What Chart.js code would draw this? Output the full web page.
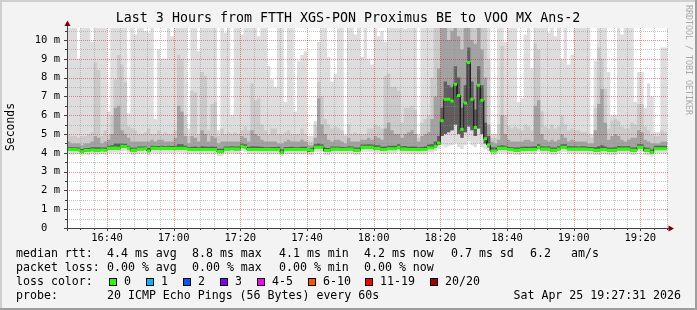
<!DOCTYPE html>
<html>
<head>
<meta charset="utf-8">
<script src="https://cdn.jsdelivr.net/npm/chart.js@4.4.1/dist/chart.umd.min.js"></script>
<style>
  html, body { margin: 0; padding: 0; background: #f3f3f3; }
  canvas { display: block; }
</style>
</head>
<body>
<canvas id="smoke" width="697" height="310"></canvas>
<script>
// SmokePing "Last 3 Hours" — one value per minute, minute 0 = 16:28
const chartTitle = 'Last 3 Hours from FTTH XGS-PON Proximus BE to VOO MX Ans-2';
const timeLabels = ['16:40', '17:00', '17:20', '17:40', '18:00', '18:20', '18:40', '19:00', '19:20'];
const timeLabelMinutes = [12, 32, 52, 72, 92, 112, 132, 152, 172];

// highest ping of each minute (ms)
const maxRtt = [
  10.8,10.8,10.8,9.0,10.8,10.8,10.8,9.9,10.8,10.8,
  10.8,10.8,6.2,10.8,10.8,10.8,10.8,10.8,6.1,10.8,
  10.3,10.8,10.8,10.5,10.4,10.8,5.8,9.5,9.0,9.0,
  10.8,10.2,10.8,10.8,10.8,10.8,5.3,10.8,10.8,9.4,
  10.8,10.8,10.8,10.8,10.8,5.2,10.8,10.4,10.8,6.0,
  10.8,10.8,10.3,10.8,10.8,10.8,10.8,10.2,10.8,10.8,
  8.6,7.9,7.5,10.8,10.8,6.7,10.8,10.8,6.2,8.9,
  9.2,9.4,4.9,4.9,5.7,9.9,10.8,10.8,9.1,7.8,
  8.2,10.8,10.8,5.0,10.8,10.8,10.3,10.8,9.1,10.8,
  9.0,8.7,10.8,10.2,10.5,9.9,10.8,10.8,10.8,10.8,
  10.8,10.6,10.8,10.8,10.8,5.0,10.8,10.8,10.8,10.8,
  10.8,10.8,10.8,10.8,10.8,10.8,10.8,10.8,10.8,10.8,
  10.8,10.8,10.8,10.8,10.8,10.8,10.8,5.0,5.0,10.8,
  10.8,9.9,10.8,10.8,10.8,6.7,6.9,10.3,10.8,8.5,
  10.8,10.8,10.8,10.8,10.4,10.8,10.2,10.8,9.0,10.8,
  8.7,9.2,10.8,10.8,10.8,10.8,10.8,5.0,8.9,10.8,
  10.8,10.8,8.3,6.0,6.0,10.8,10.3,10.8,10.8,10.8,
  6.7,8.3,8.3,6.4,7.7,7.0,5.1,5.1,9.6,9.6
];
// second highest ping
const hiRtt = [
  5.0,4.9,4.9,4.8,4.9,4.9,5.0,5.1,8.8,8.4,
  4.9,5.2,5.0,6.0,7.9,9.2,8.7,7.8,5.4,5.3,
  5.2,5.0,5.0,5.1,5.3,5.0,5.0,5.2,5.0,5.1,
  5.0,5.0,5.2,9.2,9.0,6.0,4.9,7.3,7.2,5.0,
  8.3,8.1,5.2,6.6,6.7,4.9,5.3,5.0,5.1,5.0,
  5.1,5.0,5.2,5.4,5.2,7.7,6.8,6.9,5.5,5.2,
  5.0,5.3,5.3,5.0,5.0,5.1,5.2,5.0,5.0,5.0,
  5.3,5.0,4.6,4.6,5.5,7.8,7.0,5.8,5.5,5.3,
  5.4,5.3,5.2,4.9,5.5,5.0,5.1,5.0,5.0,5.0,
  5.3,5.3,5.5,5.4,5.3,8.1,8.2,7.5,7.5,7.3,
  5.6,6.4,6.4,6.5,6.3,4.8,5.6,5.8,6.0,8.0,
  10.8,10.8,10.8,10.8,10.8,10.8,10.8,10.8,10.8,10.8,
  10.8,10.8,10.8,10.8,10.8,10.8,9.0,4.8,4.8,5.5,
  9.7,6.0,5.4,5.3,5.4,5.3,5.2,5.5,5.4,5.2,
  9.8,9.5,6.2,5.4,5.3,5.5,5.3,5.4,6.0,5.5,
  5.2,5.3,5.2,5.2,5.1,5.1,5.0,4.8,6.4,9.6,
  9.0,7.4,5.3,5.7,5.8,5.7,5.4,5.3,5.3,5.6,
  5.5,6.6,6.6,5.4,5.2,5.0,4.9,4.9,5.2,5.1
];
// upper quarter of the pings
const upRtt = [
  4.6,4.5,4.5,4.5,4.4,4.5,4.5,4.6,4.9,4.8,
  4.5,4.6,4.7,5.0,6.4,6.5,5.2,5.0,4.8,4.6,
  4.6,4.6,4.6,4.6,4.6,4.7,4.6,4.7,4.7,4.6,
  4.6,4.6,4.8,6.5,6.2,4.9,4.5,4.9,4.8,4.6,
  5.2,5.0,4.6,4.9,4.8,4.5,4.6,4.6,4.6,4.6,
  4.6,4.6,4.9,4.8,4.6,5.2,5.0,4.9,4.7,4.6,
  4.6,4.6,4.6,4.5,4.5,4.6,4.7,4.6,4.6,4.6,
  4.7,4.6,4.4,4.4,4.8,6.9,5.5,5.0,4.7,4.6,
  4.7,4.7,4.6,4.5,4.8,4.6,4.6,4.6,4.7,4.7,
  4.8,4.7,4.9,4.8,4.7,5.3,5.6,5.2,5.0,5.0,
  4.8,5.0,5.1,5.2,5.0,4.6,4.9,5.0,5.1,5.8,
  7.0,8.5,10.8,10.8,10.0,10.5,10.8,10.2,9.5,10.8,
  10.8,10.0,9.8,10.8,9.5,8.0,5.5,4.6,4.5,4.7,
  6.0,5.0,4.7,4.6,4.6,4.6,4.6,4.7,4.7,4.6,
  6.5,6.8,5.0,4.7,4.6,4.7,4.6,4.7,5.0,4.8,
  4.6,4.7,4.6,4.6,4.6,4.6,4.5,4.5,5.2,6.6,
  7.4,5.6,4.7,4.9,5.0,4.9,4.7,4.6,4.7,4.8,
  4.8,5.2,5.1,4.7,4.6,4.5,4.5,4.5,4.6,4.6
];
// pings just above the median
const midRtt = [
  4.3,4.3,4.3,4.28,4.2,4.26,4.25,4.3,4.3,4.3,
  4.28,4.28,4.38,4.4,4.5,4.5,4.5,4.48,4.38,4.27,
  4.27,4.33,4.34,4.34,4.25,4.38,4.36,4.36,4.37,4.36,
  4.37,4.36,4.38,4.45,4.45,4.37,4.3,4.32,4.33,4.3,
  4.35,4.33,4.32,4.33,4.32,4.22,4.21,4.34,4.34,4.35,
  4.33,4.34,4.5,4.46,4.32,4.35,4.35,4.33,4.32,4.3,
  4.3,4.31,4.31,4.32,4.17,4.31,4.31,4.32,4.3,4.3,
  4.32,4.32,4.26,4.26,4.45,4.5,4.46,4.27,4.26,4.34,
  4.34,4.34,4.31,4.3,4.35,4.34,4.28,4.28,4.44,4.44,
  4.45,4.44,4.4,4.4,4.32,4.33,4.38,4.38,4.38,4.46,
  4.35,4.36,4.32,4.33,4.33,4.3,4.31,4.33,4.44,4.45,
  4.6,4.9,6.4,7.8,7.6,7.5,8.6,8.0,6.4,7.6,
  9.6,7.8,6.3,8.6,7.6,5.6,4.9,4.3,4.28,4.38,
  4.4,4.38,4.31,4.3,4.28,4.28,4.32,4.33,4.32,4.33,
  4.35,4.46,4.35,4.34,4.35,4.28,4.28,4.35,4.45,4.45,
  4.35,4.35,4.35,4.34,4.35,4.35,4.31,4.31,4.3,4.35,
  4.4,4.33,4.28,4.28,4.29,4.36,4.35,4.35,4.36,4.28,
  4.28,4.45,4.45,4.28,4.27,4.18,4.37,4.37,4.37,4.37
];
// median rtt
const medRtt = [
  4.17,4.17,4.17,4.15,4.05,4.13,4.12,4.15,4.13,4.13,
  4.15,4.14,4.24,4.24,4.25,4.24,4.35,4.33,4.25,4.13,
  4.13,4.2,4.2,4.21,4.1,4.24,4.24,4.23,4.24,4.24,
  4.24,4.23,4.24,4.24,4.24,4.23,4.17,4.17,4.18,4.17,
  4.17,4.17,4.18,4.17,4.17,4.07,4.07,4.2,4.2,4.21,
  4.2,4.2,4.35,4.3,4.18,4.18,4.17,4.18,4.18,4.17,
  4.17,4.17,4.18,4.17,4.03,4.17,4.17,4.18,4.17,4.17,
  4.17,4.18,4.17,4.12,4.3,4.3,4.3,4.12,4.12,4.2,
  4.2,4.2,4.17,4.17,4.2,4.2,4.13,4.13,4.29,4.29,
  4.29,4.29,4.24,4.24,4.17,4.17,4.22,4.22,4.22,4.3,
  4.2,4.2,4.17,4.17,4.17,4.17,4.17,4.17,4.27,4.26,
  4.35,4.52,5.7,6.85,6.85,6.75,7.65,7.05,5.25,6.65,
  8.8,6.85,5.35,7.6,6.8,4.75,4.42,4.1,4.1,4.24,
  4.24,4.24,4.17,4.17,4.13,4.13,4.18,4.18,4.18,4.18,
  4.18,4.3,4.2,4.2,4.2,4.13,4.13,4.2,4.3,4.3,
  4.2,4.2,4.2,4.2,4.2,4.2,4.17,4.17,4.13,4.13,
  4.17,4.17,4.13,4.13,4.13,4.2,4.2,4.2,4.2,4.13,
  4.13,4.3,4.3,4.13,4.13,4.03,4.22,4.22,4.22,4.22
];
// pings just below the median
const loRtt = [
  4.11,4.11,4.11,4.09,3.99,4.07,4.06,4.09,4.07,4.07,
  4.09,4.08,4.18,4.18,4.19,4.18,4.28,4.27,4.19,4.07,
  4.07,4.14,4.14,4.15,4.04,4.18,4.18,4.17,4.18,4.18,
  4.18,4.17,4.18,4.18,4.18,4.17,4.11,4.11,4.12,4.11,
  4.11,4.11,4.12,4.11,4.11,4.01,4.01,4.14,4.14,4.15,
  4.14,4.14,4.28,4.24,4.12,4.12,4.11,4.12,4.12,4.11,
  4.11,4.11,4.12,4.11,3.97,4.11,4.11,4.12,4.11,4.11,
  4.11,4.12,4.06,4.06,4.24,4.24,4.24,4.06,4.06,4.14,
  4.14,4.14,4.11,4.11,4.14,4.14,4.07,4.07,4.23,4.23,
  4.23,4.23,4.18,4.18,4.11,4.11,4.16,4.16,4.16,4.24,
  4.14,4.14,4.11,4.11,4.11,4.11,4.11,4.11,4.21,4.2,
  4.28,4.42,4.9,5.0,5.1,5.2,5.5,5.0,4.8,5.1,
  5.4,5.2,4.9,5.3,5.0,4.5,4.3,4.04,4.07,4.18,
  4.18,4.18,4.11,4.11,4.07,4.07,4.12,4.12,4.12,4.12,
  4.12,4.24,4.14,4.14,4.14,4.07,4.07,4.14,4.24,4.24,
  4.14,4.14,4.14,4.14,4.14,4.14,4.11,4.11,4.07,4.07,
  4.11,4.11,4.07,4.07,4.07,4.14,4.14,4.14,4.14,4.07,
  4.07,4.24,4.24,4.07,4.07,3.97,4.16,4.16,4.16,4.16
];
// lowest ping of each minute
const minRtt = [
  3.92,3.9,3.93,3.92,3.85,3.9,3.88,3.92,3.9,3.91,
  3.92,3.9,4.0,4.0,4.02,4.0,4.08,4.1,4.0,3.9,
  3.9,3.95,3.96,3.97,3.86,4.0,4.0,3.98,4.0,4.0,
  4.0,3.99,4.0,4.02,4.0,3.98,3.93,3.92,3.94,3.92,
  3.93,3.93,3.94,3.92,3.93,3.83,3.84,3.96,3.96,3.97,
  3.96,3.95,4.1,4.06,3.94,3.94,3.93,3.94,3.93,3.93,
  3.93,3.92,3.94,3.93,3.8,3.93,3.93,3.94,3.93,3.92,
  3.93,3.94,3.88,3.88,4.06,4.06,4.05,3.88,3.88,3.96,
  3.96,3.96,3.93,3.93,3.96,3.96,3.89,3.9,4.05,4.05,
  4.05,4.05,4.0,4.0,3.93,3.93,3.98,3.98,3.98,4.06,
  3.96,3.96,3.93,3.93,3.93,3.93,3.93,3.93,4.03,4.02,
  4.1,4.2,4.4,4.3,4.35,4.4,4.5,4.3,4.2,4.4,
  4.6,4.4,4.3,4.5,4.3,4.2,4.1,3.86,3.89,4.0,
  4.0,4.0,3.93,3.93,3.89,3.89,3.94,3.94,3.94,3.94,
  3.94,4.06,3.96,3.96,3.96,3.89,3.89,3.96,4.06,4.06,
  3.96,3.96,3.96,3.96,3.96,3.96,3.93,3.93,3.89,3.89,
  3.93,3.93,3.89,3.89,3.89,3.96,3.96,3.96,3.96,3.89,
  3.89,4.06,4.06,3.89,3.89,3.79,3.98,3.98,3.98,3.98
];

const rttStats = ['4.4 ms avg', '8.8 ms max', '4.1 ms min', '4.2 ms now', '0.7 ms sd', '6.2', 'am/s'];
const lossStats = ['0.00 % avg', '0.00 % max', '0.00 % min', '0.00 % now'];
const lossLabels = ['0', '1', '2', '3', '4-5', '6-10', '11-19', '20/20'];
const lossColors = ['#26ff00', '#00b8ff', '#0059ff', '#7e00ff', '#ff00ff', '#ff5500', '#ff0000', '#a10000'];
const probeText = '20 ICMP Echo Pings (56 Bytes) every 60s';
const stampText = 'Sat Apr 25 19:27:31 2026';

// each minute is a flat step
function steps(arr) {
  const out = [];
  arr.forEach((v, i) => { out.push({ x: i, y: v }); out.push({ x: i + 1, y: v }); });
  return out;
}
function dashes(arr) {
  const out = [];
  arr.forEach((v, i) => { out.push({ x: i, y: v }); out.push({ x: i + 1, y: v }); out.push({ x: i + 1, y: null }); });
  return out;
}
function band(data, fill, color, order) {
  return { data: steps(data), fill: fill, backgroundColor: color, borderWidth: 0, pointRadius: 0, order: order };
}

const MONO = '"DejaVu Sans Mono", monospace';

const rrdPlugin = {
  id: 'rrd',
  beforeDraw(chart) {
    const ctx = chart.ctx, a = chart.chartArea;
    ctx.save();
    ctx.fillStyle = '#f3f3f3';
    ctx.fillRect(0, 0, 697, 310);
    ctx.fillStyle = '#ffffff';
    ctx.fillRect(a.left, a.top, a.right - a.left, a.bottom - a.top);
    // frame
    ctx.fillStyle = '#cfcfcf';
    ctx.fillRect(0, 0, 697, 2);
    ctx.fillRect(0, 0, 2, 310);
    ctx.fillStyle = '#9e9e9e';
    ctx.fillRect(0, 308, 697, 2);
    ctx.fillRect(695, 0, 2, 310);
    ctx.restore();
  },
  beforeDatasetDraw(chart, args) {
    if (args.index !== 6) return;
    const ctx = chart.ctx, a = chart.chartArea;
    const xs = chart.scales.x, ys = chart.scales.y;
    ctx.save();
    ctx.lineWidth = 1;
    ctx.setLineDash([1, 1]);
    for (let m = 4; m <= 180; m += 4) {
      const px = Math.round(xs.getPixelForValue(m)) + 0.5;
      ctx.strokeStyle = (m - 12) % 20 === 0 ? 'rgba(229,0,15,0.45)' : 'rgba(143,143,143,0.5)';
      ctx.beginPath(); ctx.moveTo(px, a.top); ctx.lineTo(px, a.bottom); ctx.stroke();
    }
    for (let v = 0.5; v <= 10.5; v += 0.5) {
      const py = Math.round(ys.getPixelForValue(v)) + 0.5;
      ctx.strokeStyle = Number.isInteger(v) ? 'rgba(229,0,15,0.45)' : 'rgba(143,143,143,0.5)';
      ctx.beginPath(); ctx.moveTo(a.left, py); ctx.lineTo(a.right + 2, py); ctx.stroke();
    }
    ctx.restore();
  },
  afterDraw(chart) {
    const ctx = chart.ctx, a = chart.chartArea;
    const xs = chart.scales.x, ys = chart.scales.y;
    ctx.save();
    // axes
    ctx.strokeStyle = '#404040';
    ctx.lineWidth = 1;
    ctx.beginPath();
    ctx.moveTo(a.left + 0.5, a.bottom + 3); ctx.lineTo(a.left + 0.5, 24);
    ctx.moveTo(a.left - 3, a.bottom + 0.5); ctx.lineTo(670, a.bottom + 0.5);
    ctx.stroke();
    // ticks
    ctx.beginPath();
    for (let v = 0; v <= 10.5; v += 0.5) {
      const py = Math.round(ys.getPixelForValue(v)) + 0.5;
      ctx.moveTo(a.left - (Number.isInteger(v) ? 3 : 2), py); ctx.lineTo(a.left, py);
    }
    for (let m = 4; m <= 180; m += 4) {
      const px = Math.round(xs.getPixelForValue(m)) + 0.5;
      ctx.moveTo(px, a.bottom); ctx.lineTo(px, a.bottom + ((m - 12) % 20 === 0 ? 3 : 2));
    }
    ctx.stroke();
    // arrows
    ctx.fillStyle = '#7f0000';
    ctx.beginPath();
    ctx.moveTo(a.left + 0.5, 20.5); ctx.lineTo(a.left + 3.5, 26); ctx.lineTo(a.left - 2.5, 26); ctx.closePath(); ctx.fill();
    ctx.beginPath();
    ctx.moveTo(674, a.bottom + 0.5); ctx.lineTo(668.5, a.bottom + 3.5); ctx.lineTo(668.5, a.bottom - 2.5); ctx.closePath(); ctx.fill();

    ctx.fillStyle = '#000000';
    // y labels
    ctx.font = '10.5px ' + MONO;
    ctx.textAlign = 'right';
    ctx.textBaseline = 'middle';
    for (let v = 0; v <= 10; v++) {
      ctx.fillText(v === 0 ? '0  ' : v + ' m', 60, ys.getPixelForValue(v));
    }
    // x labels
    ctx.textAlign = 'center';
    timeLabels.forEach((t, i) => ctx.fillText(t, xs.getPixelForValue(timeLabelMinutes[i]), 238));
    // title
    ctx.font = '13.3px ' + MONO;
    ctx.fillText(chartTitle, 348, 19);
    // y title
    ctx.save();
    ctx.translate(11, 127);
    ctx.rotate(-Math.PI / 2);
    ctx.font = '11.4px ' + MONO;
    ctx.fillText('Seconds', 0, 0);
    ctx.restore();
    // watermark
    ctx.save();
    ctx.translate(688, 5);
    ctx.rotate(Math.PI / 2);
    ctx.textAlign = 'left';
    ctx.fillStyle = '#a8a8a8';
    ctx.font = '8.3px ' + MONO;
    ctx.fillText('RRDTOOL / TOBI OETIKER', 0, 0);
    ctx.restore();

    // legend
    ctx.font = '11.6px ' + MONO;
    ctx.textAlign = 'left';
    ctx.fillStyle = '#000000';
    const statX = [107, 192, 279, 364, 451, 530, 571];
    ctx.fillText('median rtt:', 16, 254);
    rttStats.forEach((s, i) => ctx.fillText(s, statX[i], 254));
    ctx.fillText('packet loss:', 16, 268);
    lossStats.forEach((s, i) => ctx.fillText(s, statX[i], 268));
    ctx.fillText('loss color:', 16, 282);
    const boxX = [109, 146, 183, 220, 257, 308, 365, 430];
    lossLabels.forEach((l, i) => {
      ctx.fillStyle = lossColors[i];
      ctx.fillRect(boxX[i], 278, 8, 8);
      ctx.strokeStyle = '#000000';
      ctx.strokeRect(boxX[i] + 0.5, 278.5, 7, 7);
      ctx.fillStyle = '#000000';
      ctx.fillText(l, boxX[i] + 15, 282);
    });
    ctx.fillText('probe:', 16, 296);
    ctx.fillText(probeText, 107, 296);
    ctx.textAlign = 'right';
    ctx.fillText(stampText, 681, 296);
    ctx.restore();
  }
};

new Chart(document.getElementById('smoke').getContext('2d'), {
  type: 'line',
  data: {
    datasets: [
      { data: steps(minRtt), fill: false, borderWidth: 0, pointRadius: 0, order: 10 },
      band(maxRtt, 0, '#dddddd', 9),
      { data: steps(loRtt), fill: false, borderWidth: 0, pointRadius: 0, order: 8 },
      band(hiRtt, 2, '#cacaca', 7),
      band(upRtt, 2, '#a2a2a2', 6),
      band(midRtt, 2, '#5e5e5e', 5),
      { data: steps(medRtt), fill: false, borderColor: '#202020', borderWidth: 1, pointRadius: 0, order: 2 },
      { data: dashes(medRtt), fill: false, borderColor: '#26ff00', borderWidth: 3, borderCapStyle: 'butt', pointRadius: 0, spanGaps: false, order: 1 }
    ]
  },
  options: {
    responsive: false,
    animation: false,
    layout: { padding: { left: 67, top: 28, right: 30, bottom: 82 } },
    plugins: { legend: { display: false }, tooltip: { enabled: false } },
    scales: {
      x: { type: 'linear', min: 0, max: 180, display: false },
      y: { type: 'linear', min: 0, max: 10.64, display: false }
    }
  },
  plugins: [rrdPlugin]
});
</script>
</body>
</html>
